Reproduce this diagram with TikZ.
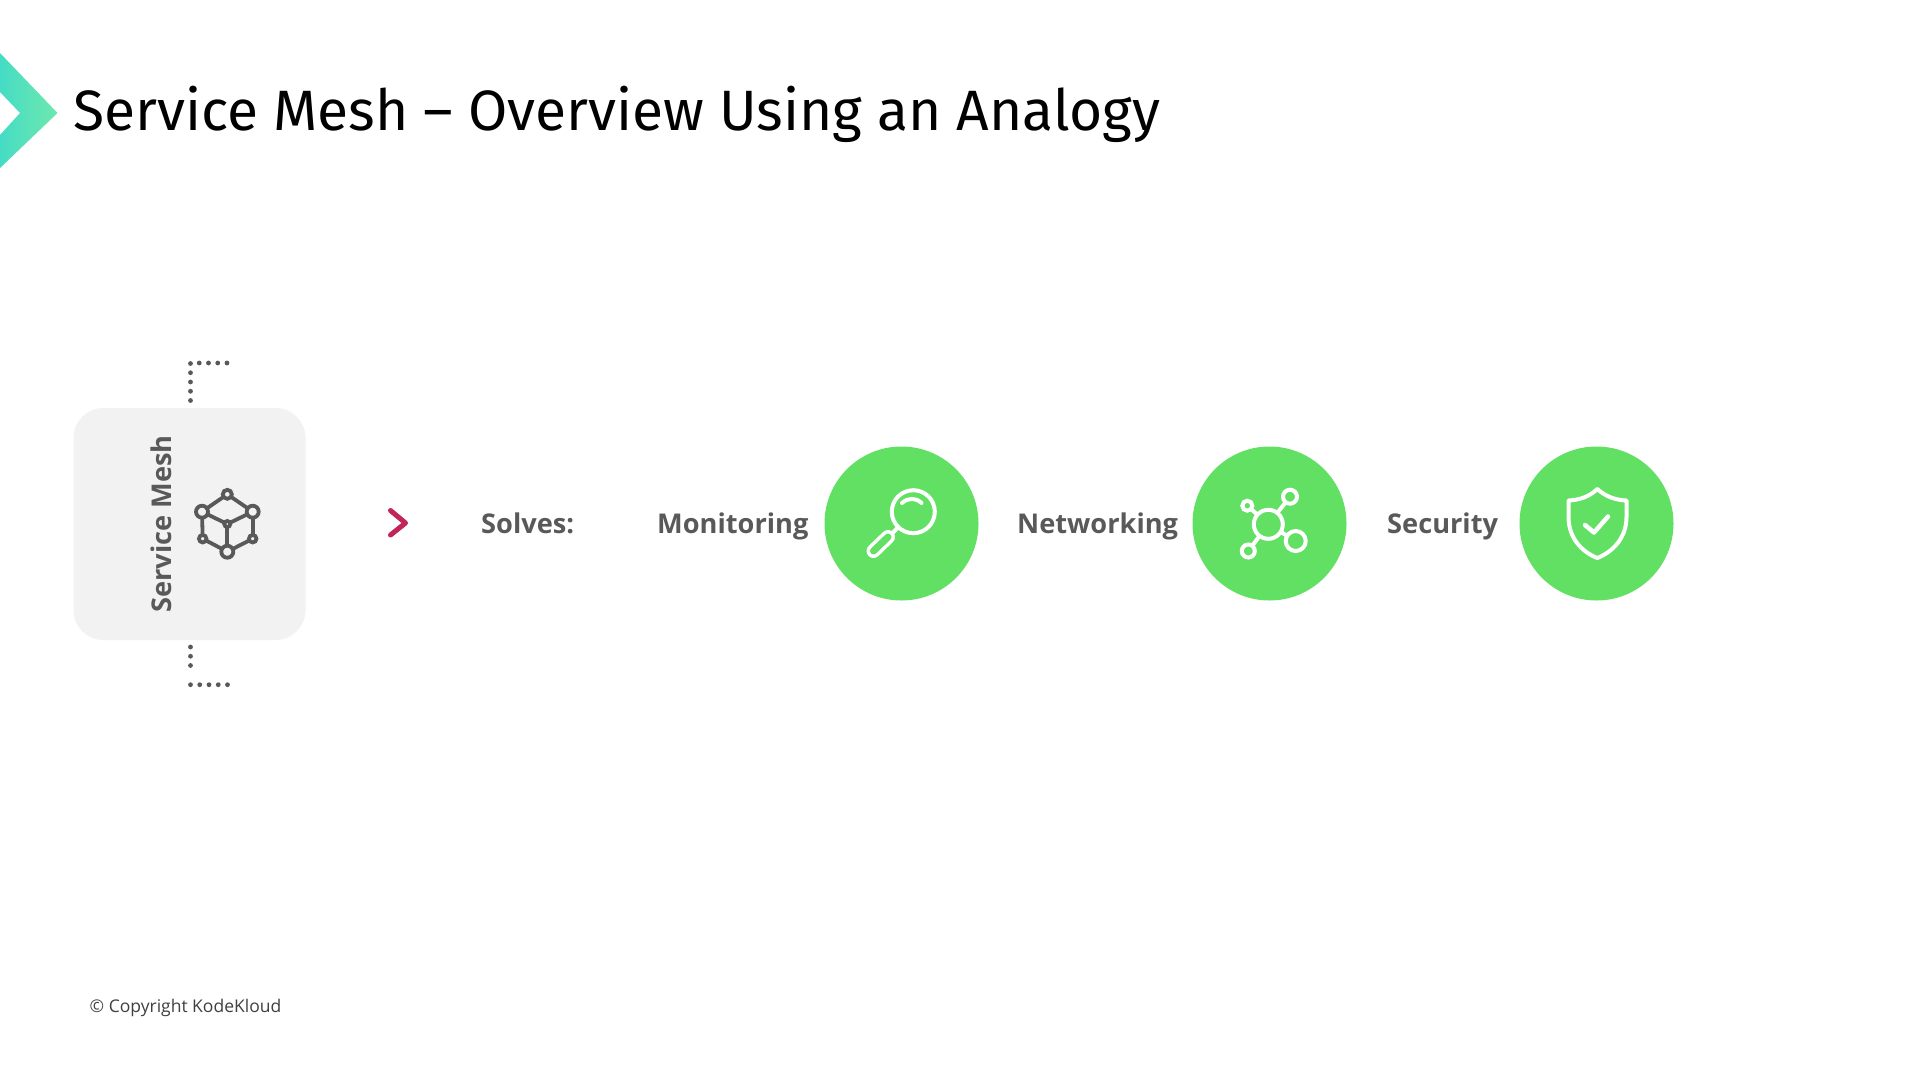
\documentclass[tikz,border=0pt]{standalone}
\usepackage{fontspec}
\setmainfont{Open Sans}
\newfontfamily\titlefont{Fira Sans}
\definecolor{darkgrey}{HTML}{595959}
\definecolor{boxgrey}{HTML}{F2F2F2}
\definecolor{meshgreen}{HTML}{62E064}
\definecolor{berry}{HTML}{C2255C}
\definecolor{logoteal}{HTML}{45DCC5}
\definecolor{logogreen}{HTML}{6EE8AE}
\tikzset{
  x=1pt, y=-1pt,
  label text/.style={anchor=base west, inner sep=0, text=darkgrey, font=\bfseries\fontsize{27.2}{27.2}\selectfont},
  green disc/.style={circle, fill=meshgreen, minimum size=154pt, inner sep=0, outer sep=0},
  cube dot/.style={circle, draw=darkgrey, fill=boxgrey, line width=3.8pt, inner sep=0, outer sep=0},
  cube line/.style={draw=darkgrey, line width=3.8pt},
  net dot/.style={circle, draw=white, line width=4pt, inner sep=0, outer sep=0},
  net line/.style={draw=white, line width=4pt},
  icon line/.style={draw=white, line width=4pt, line cap=round, line join=round},
  dot line/.style={draw=darkgrey, line width=4.8pt, line cap=round, dash pattern=on 0pt off 9.25pt}
}
\begin{document}
\begin{tikzpicture}
	\useasboundingbox (0,0) rectangle (1920,1080);
	\fill[white] (0,0) rectangle (1920,1080);

	\shade[left color=logoteal, right color=logogreen]
	    (0,53) -- (57.5,113) -- (0,168) -- (0,135) -- (20,113) -- (0,92) -- cycle;
	\node[anchor=base west, inner sep=0, text=black, font=\titlefont\fontsize{56.9}{56.9}\selectfont] (title) at (73,130) {Service Mesh – Overview Using an Analogy};

	\node[draw=none, fill=boxgrey, rounded corners=30pt, minimum size=232pt, inner sep=0, outer sep=0] (meshbox) at (189.5,524) {};
	\node[rotate=90, inner sep=0, text=darkgrey, font=\bfseries\fontsize{27.2}{27.2}\selectfont] (meshtext) at (161,524) {Service Mesh};

	\coordinate (topstart) at (190.5,400.5);
	\coordinate (topcorner) at (190.5,363);
	\coordinate (topend) at (227.5,363);
	\coordinate (lowstart) at (190.5,647);
	\coordinate (lowbreak) at (190.5,666);
	\coordinate (lowcorner) at (190.5,684.7);
	\coordinate (lowend) at (227.5,684.7);
	\draw[dot line] (topstart) -- (topcorner) -- (topend);
	\draw[dot line] (lowstart) -- (lowbreak);
	\draw[dot line] (lowcorner) -- (lowend);

	% cube
	\foreach \name/\x/\y/\size in {ctop/227.3/494.3/9, cleft/202/511.7/12, cright/252.7/511.7/12, cmid/227.3/524/6, clowl/202.7/538.7/7.5, clowr/252.7/538.7/7.5, cbot/227.3/551.7/12}
	    {
		  \node[cube dot, minimum size=\size pt] (\name) at (\x,\y) {};
	    }
	\foreach \a/\b in {ctop/cleft, ctop/cright, cleft/cmid, cright/cmid, cmid/cbot, cleft/clowl, cright/clowr, clowl/cbot, clowr/cbot}
	    {
		  \draw[cube line] (\a) -- (\b);
	    }

	\draw[draw=berry, line width=5pt, line cap=round, line join=round] (390.5,510.5) -- (405.5,523) -- (390.5,535);

	\node[label text] (solves) at (481,533.5) {Solves:};
	\node[label text] (monitoring) at (657,533.5) {Monitoring};
	\node[label text] (networking) at (1017,533.5) {Networking};
	\node[label text] (security) at (1387,533.5) {Security};

	\node[green disc] (disc1) at (901.5,523.5) {};
	\node[green disc] (disc2) at (1269.5,523.5) {};
	\node[green disc] (disc3) at (1596.5,523.5) {};

	% magnifier
	\draw[icon line] (913.3,511.7) circle (21.5);
	\draw[icon line] (902,503) .. controls (908,497.5) and (916,497.5) .. (921.5,503);
	\draw[icon line] (897.5,528) -- (890,535.5);
	\draw[draw=white, line width=14pt, line cap=round] (888,537) -- (873.5,551);
	\draw[draw=meshgreen, line width=7pt, line cap=round] (888,537) -- (873.5,551);

	% network
	\foreach \name/\x/\y/\size in {nmid/1268.3/524.3/29, ntr/1290/496.7/14, ntl/1247.3/505.7/10, nbl/1248.3/551/13, nbr/1295.7/541/20}
	    {
		  \node[net dot, minimum size=\size pt] (\name) at (\x,\y) {};
	    }
	\foreach \a in {ntr,ntl,nbl,nbr}
	    {
		  \draw[net line] (nmid) -- (\a);
	    }

	% shield
	\draw[icon line] (1597.3,489) .. controls (1589,497) and (1579,500) .. (1568.5,500.5)
	    -- (1568.5,517) .. controls (1568.5,538) and (1582,552) .. (1597.3,558)
	    .. controls (1612.5,552) and (1626.5,538) .. (1626.5,517) -- (1626.5,500.5)
	    .. controls (1616,500) and (1606,497) .. (1597.3,489) -- cycle;
	\draw[icon line, line width=4.5pt] (1585,525) -- (1594,532.5) -- (1608,516.5);

	\node[anchor=base west, inner sep=0, text=black!75, font=\fontsize{17.5}{17.5}\selectfont] (copyright) at (89.5,1012.5) {© Copyright KodeKloud};
\end{tikzpicture}
\end{document}
